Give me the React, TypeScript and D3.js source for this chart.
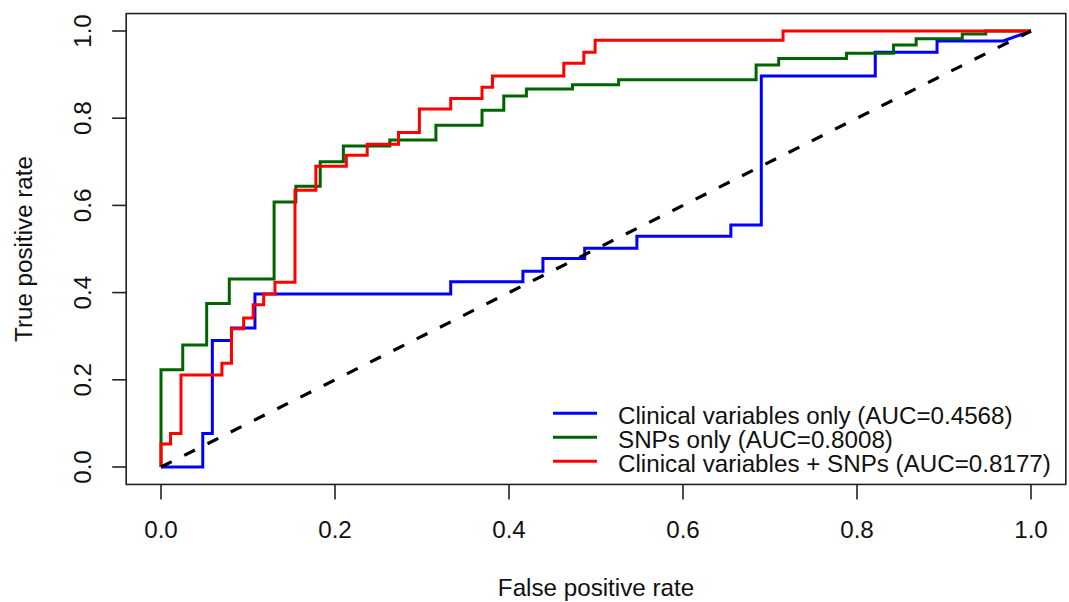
import React from "react";
import * as d3 from "d3";

// ROC curve vertices (false positive rate, true positive rate)
const clinicalFpr = [0, 0.048, 0.048, 0.059, 0.059, 0.081, 0.081, 0.108, 0.108, 0.333, 0.333, 0.416, 0.416, 0.439, 0.439, 0.487, 0.487, 0.547, 0.547, 0.655, 0.655, 0.69, 0.69, 0.821, 0.821, 0.892, 0.892, 0.968, 1];
const clinicalTpr = [0, 0, 0.077, 0.077, 0.29, 0.29, 0.319, 0.319, 0.397, 0.397, 0.425, 0.425, 0.449, 0.449, 0.478, 0.478, 0.502, 0.502, 0.529, 0.529, 0.555, 0.555, 0.897, 0.897, 0.951, 0.951, 0.977, 0.977, 1];

const snpFpr = [0, 0, 0.025, 0.025, 0.0525, 0.0525, 0.0785, 0.0785, 0.13, 0.13, 0.155, 0.155, 0.183, 0.183, 0.2096, 0.2096, 0.263, 0.263, 0.316, 0.316, 0.369, 0.369, 0.394, 0.394, 0.42, 0.42, 0.473, 0.473, 0.526, 0.526, 0.684, 0.684, 0.71, 0.71, 0.788, 0.788, 0.842, 0.842, 0.868, 0.868, 0.921, 0.921, 0.948, 0.948, 1];
const snpTpr = [0, 0.223, 0.223, 0.28, 0.28, 0.375, 0.375, 0.431, 0.431, 0.608, 0.608, 0.644, 0.644, 0.7, 0.7, 0.736, 0.736, 0.75, 0.75, 0.784, 0.784, 0.818, 0.818, 0.851, 0.851, 0.867, 0.867, 0.877, 0.877, 0.888, 0.888, 0.922, 0.922, 0.937, 0.937, 0.949, 0.949, 0.968, 0.968, 0.982, 0.982, 0.993, 0.993, 1, 1];

const combinedFpr = [0, 0, 0.011, 0.011, 0.023, 0.023, 0.07, 0.07, 0.081, 0.081, 0.095, 0.095, 0.106, 0.106, 0.118, 0.118, 0.131, 0.131, 0.154, 0.154, 0.178, 0.178, 0.213, 0.213, 0.237, 0.237, 0.273, 0.273, 0.297, 0.297, 0.333, 0.333, 0.369, 0.369, 0.381, 0.381, 0.463, 0.463, 0.486, 0.486, 0.499, 0.499, 0.715, 0.715, 1];
const combinedTpr = [0, 0.053, 0.053, 0.077, 0.077, 0.211, 0.211, 0.238, 0.238, 0.317, 0.317, 0.342, 0.342, 0.372, 0.372, 0.397, 0.397, 0.424, 0.424, 0.635, 0.635, 0.69, 0.69, 0.715, 0.715, 0.74, 0.74, 0.767, 0.767, 0.821, 0.821, 0.845, 0.845, 0.871, 0.871, 0.897, 0.897, 0.926, 0.926, 0.951, 0.951, 0.979, 0.979, 1, 1];

const seriesNames = [
  "Clinical variables only (AUC=0.4568)",
  "SNPs only (AUC=0.8008)",
  "Clinical variables + SNPs (AUC=0.8177)",
];
const seriesColors = ["#0000FF", "#006400", "#FF0000"];
const tickValues = [0, 0.2, 0.4, 0.6, 0.8, 1.0];
const diagonal = [0, 1];

const FONT = "'Liberation Sans', Arial, Helvetica, sans-serif";

export default function App() {
  const W = 1069;
  const H = 602;
  const x = d3.scaleLinear().domain([0, 1]).range([161, 1031]);
  const y = d3.scaleLinear().domain([0, 1]).range([467, 31]);

  const series = [
    { fpr: clinicalFpr, tpr: clinicalTpr },
    { fpr: snpFpr, tpr: snpTpr },
    { fpr: combinedFpr, tpr: combinedTpr },
  ];

  const line = d3
    .line<[number, number]>()
    .x((d) => x(d[0]))
    .y((d) => y(d[1]));

  const boxL = x(-0.04);
  const boxR = x(1.04);
  const boxT = y(1.04);
  const boxB = y(-0.04);

  const fs = 24.2;
  const legendX0 = 553;
  const legendX1 = 597;
  const legendTextX = 618;
  const legendY0 = 413.3;
  const legendStep = 24;

  return (
    <svg
      width={W}
      height={H}
      style={{ position: "absolute", left: 0, top: 0, background: "#fff" }}
      fontFamily={FONT}
    >
      <rect x={0} y={0} width={W} height={H} fill="#fff" />
      {series.map((s, i) => (
        <path
          key={i}
          d={line(s.fpr.map((f, k) => [f, s.tpr[k]] as [number, number])) || ""}
          fill="none"
          stroke={seriesColors[i]}
          strokeWidth={3}
          strokeLinejoin="miter"
        />
      ))}
      <path
        d={line(diagonal.map((v) => [v, v] as [number, number])) || ""}
        fill="none"
        stroke="#000"
        strokeWidth={3.2}
        strokeDasharray="12 14"
      />
      {/* box */}
      <rect
        x={boxL}
        y={boxT}
        width={boxR - boxL}
        height={boxB - boxT}
        fill="none"
        stroke="#222"
        strokeWidth={1.6}
      />
      {/* x axis */}
      {tickValues.map((t) => (
        <g key={"x" + t}>
          <line x1={x(t)} x2={x(t)} y1={boxB} y2={boxB + 15} stroke="#222" strokeWidth={1.6} />
          <text x={x(t)} y={538} textAnchor="middle" fontSize={fs} fill="#111">
            {t.toFixed(1)}
          </text>
        </g>
      ))}
      {/* y axis */}
      {tickValues.map((t) => (
        <g key={"y" + t}>
          <line x1={boxL} x2={boxL - 14} y1={y(t)} y2={y(t)} stroke="#222" strokeWidth={1.6} />
          <text
            transform={`translate(91,${y(t)}) rotate(-90)`}
            textAnchor="middle"
            fontSize={fs}
            fill="#111"
          >
            {t.toFixed(1)}
          </text>
        </g>
      ))}
      <text x={(boxL + boxR) / 2} y={596} textAnchor="middle" fontSize={fs} fill="#111">
        False positive rate
      </text>
      <text
        transform={`translate(32,${(boxT + boxB) / 2}) rotate(-90)`}
        textAnchor="middle"
        fontSize={fs}
        fill="#111"
      >
        True positive rate
      </text>
      {/* legend */}
      {seriesNames.map((name, i) => (
        <g key={name}>
          <line
            x1={legendX0}
            x2={legendX1}
            y1={legendY0 + i * legendStep}
            y2={legendY0 + i * legendStep}
            stroke={seriesColors[i]}
            strokeWidth={3}
          />
          <text x={legendTextX} y={legendY0 + i * legendStep + 11} fontSize={fs} fill="#111">
            {name}
          </text>
        </g>
      ))}
    </svg>
  );
}
